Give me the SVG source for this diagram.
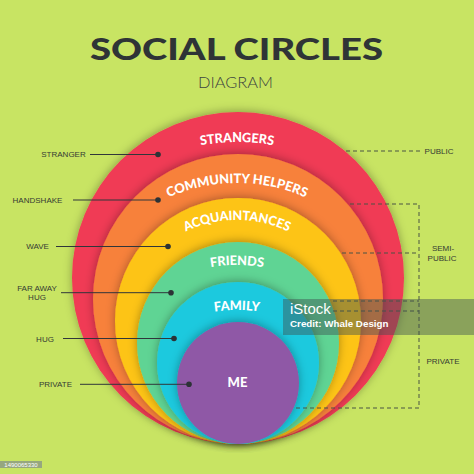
<svg xmlns="http://www.w3.org/2000/svg" width="474" height="474" viewBox="0 0 474 474">
<defs>
<filter id="sh" x="-20%" y="-20%" width="140%" height="140%">
<feDropShadow dx="0" dy="-1" stdDeviation="5" flood-color="#000" flood-opacity="0.32"/>
</filter>
<path id="pStr" d="M 37 342 A 200 200 0 0 1 437 342"/>
<path id="pCom" d="M 67 353 A 170 170 0 0 1 407 353"/>
<path id="pAcq" d="M 117 340 A 120 120 0 0 1 357 340"/>
<path id="pFri" d="M 77 425 A 160 160 0 0 1 397 425"/>
<path id="pFam" d="M 77 470 A 160 160 0 0 1 397 470"/>
</defs>
<style>
.ring{filter:url(#sh)}
.lbl{font-family:Lato,"Liberation Sans",sans-serif;font-weight:900;font-size:13px;fill:#fff}
.side{font-family:"Liberation Sans",Arial,sans-serif;font-size:8px;fill:#353b33;text-anchor:middle}
.lead{stroke:#30363a;stroke-width:1;fill:none}
.dot{fill:#2c3236}
.dash{stroke:#4b5544;stroke-width:1;stroke-dasharray:4 3;fill:none}
</style>
<rect width="474" height="474" fill="#c8e463"/>
<g id="title">
<text x="236.5" y="60" text-anchor="middle" font-family="Lato,'Liberation Sans',sans-serif" font-weight="900" font-size="30" fill="#2f3436" textLength="293" lengthAdjust="spacingAndGlyphs">SOCIAL CIRCLES</text>
<text x="235.5" y="88" text-anchor="middle" font-family="Lato,'Liberation Sans',sans-serif" font-weight="300" font-size="16" fill="#3d4540" textLength="75" lengthAdjust="spacingAndGlyphs">DIAGRAM</text>
</g>
<g id="strangers"><circle class="ring" cx="238" cy="278" r="166" fill="#f03a55"/></g>
<g id="community-helpers"><circle class="ring" cx="238" cy="299" r="145" fill="#f7813b"/></g>
<g id="acquaintances"><circle class="ring" cx="238" cy="321" r="123" fill="#fdc414"/></g>
<g id="friends"><circle class="ring" cx="238" cy="343" r="101" fill="#5fd494"/></g>
<g id="family"><circle class="ring" cx="238" cy="363" r="81" fill="#1fc9de"/></g>
<g id="me"><circle class="ring" cx="238" cy="383" r="61" fill="#8f58a6"/></g>
<g id="ring-labels">
<text class="lbl"><textPath href="#pStr" startOffset="50%" text-anchor="middle" textLength="73" lengthAdjust="spacingAndGlyphs">STRANGERS</textPath></text>
<text class="lbl"><textPath href="#pCom" startOffset="50%" text-anchor="middle" textLength="141" lengthAdjust="spacingAndGlyphs">COMMUNITY HELPERS</textPath></text>
<text class="lbl"><textPath href="#pAcq" startOffset="50%" text-anchor="middle" textLength="106" lengthAdjust="spacingAndGlyphs">ACQUAINTANCES</textPath></text>
<text class="lbl"><textPath href="#pFri" startOffset="50%" text-anchor="middle" textLength="53" lengthAdjust="spacingAndGlyphs">FRIENDS</textPath></text>
<text class="lbl"><textPath href="#pFam" startOffset="50%" text-anchor="middle" textLength="45" lengthAdjust="spacingAndGlyphs">FAMILY</textPath></text>
<text class="lbl" x="237.5" y="387" text-anchor="middle">ME</text>
</g>
<g id="connectors">
<line class="lead" x1="90" y1="154.5" x2="158" y2="154.5"/><circle class="dot" cx="158" cy="154.5" r="2.8"/>
<line class="lead" x1="73" y1="200" x2="158" y2="200"/><circle class="dot" cx="158" cy="200" r="2.8"/>
<line class="lead" x1="56" y1="246.5" x2="168" y2="246.5"/><circle class="dot" cx="168" cy="246.5" r="2.8"/>
<line class="lead" x1="61" y1="292.7" x2="171" y2="292.7"/><circle class="dot" cx="171" cy="292.7" r="2.8"/>
<line class="lead" x1="63" y1="338.5" x2="174" y2="338.5"/><circle class="dot" cx="174" cy="338.5" r="2.8"/>
<line class="lead" x1="80" y1="384.3" x2="189" y2="384.3"/><circle class="dot" cx="189" cy="384.3" r="2.8"/>
<path class="dash" d="M 346 151 H 420"/>
<path class="dash" d="M 350 204 H 419 V 408 H 296"/>
<path class="dash" d="M 342 253 H 419"/>
<path class="dash" d="M 333 301 H 419"/>
<path class="dash" d="M 333 311 H 419"/>
</g>
<g id="left-labels">
<text class="side" x="63.5" y="157.3">STRANGER</text>
<text class="side" x="37.5" y="202.8">HANDSHAKE</text>
<text class="side" x="37.5" y="249.4">WAVE</text>
<text class="side" x="37" y="290.8">FAR AWAY</text>
<text class="side" x="37" y="299.8">HUG</text>
<text class="side" x="45" y="341.5">HUG</text>
<text class="side" x="55.5" y="387">PRIVATE</text>
</g>
<g id="right-labels">
<text class="side" x="439" y="154">PUBLIC</text>
<text class="side" x="443" y="251">SEMI-</text>
<text class="side" x="442" y="261">PUBLIC</text>
<text class="side" x="443" y="364">PRIVATE</text>
</g>
<g id="watermark">
<rect x="283" y="299" width="191" height="36" fill="#3f5252" opacity="0.45"/>
<text x="290" y="314" font-family="'Liberation Sans',Arial,sans-serif" font-size="15" fill="#fff">iStock</text>
<text x="290" y="327" font-family="'Liberation Sans',Arial,sans-serif" font-weight="bold" font-size="9.8" fill="#fff">Credit: Whale Design</text>
<rect x="0" y="461" width="42" height="7" fill="#8d9c84" opacity="0.85"/>
<text x="21" y="466.5" text-anchor="middle" font-family="'Liberation Sans',Arial,sans-serif" font-size="6" fill="#fff">1490065330</text>
</g>
</svg>
